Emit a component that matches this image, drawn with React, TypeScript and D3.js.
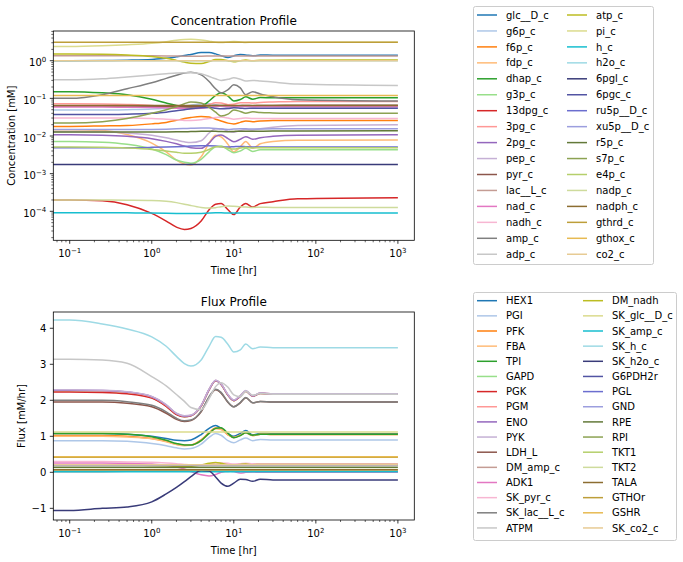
import React from 'react';
import * as d3 from 'd3';

// ---- sample times [hr] shared by the dynamic series ----
const sampleTimes = [0.05, 0.1, 0.25, 0.5, 1, 1.5, 2, 2.5, 3, 4, 5, 6, 7, 8.5, 10, 12, 14, 17, 21, 30, 60, 1000];
// series that stay at their steady value
const steadyTimes = [0.05, 1000];

// ---- concentrations [mM] ----
const glc = [1.0, 1.0, 1.01, 1.03, 1.08, 1.16, 1.27, 1.37, 1.47, 1.64, 1.64, 1.52, 1.36, 1.22, 1.34, 1.47, 1.42, 1.35, 1.42, 1.4, 1.39, 1.39];
const g6p = [0.049, 0.049, 0.049, 0.05, 0.052, 0.055, 0.058, 0.062, 0.066, 0.071, 0.072, 0.068, 0.062, 0.057, 0.06, 0.065, 0.063, 0.06, 0.062, 0.061, 0.06, 0.06];
const f6p = [0.018, 0.018, 0.0185, 0.019, 0.021, 0.023, 0.026, 0.029, 0.031, 0.033, 0.032, 0.028, 0.025, 0.022, 0.021, 0.023, 0.025, 0.024, 0.025, 0.026, 0.026, 0.026];
const fdp = [0.0146, 0.0146, 0.014, 0.011, 0.0065, 0.0038, 0.0023, 0.0018, 0.0017, 0.0028, 0.0065, 0.0105, 0.0095, 0.006, 0.0038, 0.0052, 0.0071, 0.0048, 0.0062, 0.0072, 0.0077, 0.0078];
const dhap = [0.15, 0.15, 0.14, 0.125, 0.095, 0.075, 0.065, 0.06, 0.058, 0.062, 0.085, 0.12, 0.14, 0.115, 0.085, 0.093, 0.11, 0.095, 0.105, 0.103, 0.104, 0.104];
const g3p = [0.0071, 0.0071, 0.0068, 0.006, 0.0045, 0.0032, 0.0023, 0.002, 0.0019, 0.0024, 0.0038, 0.0052, 0.0054, 0.0043, 0.0036, 0.004, 0.0047, 0.0039, 0.0043, 0.0043, 0.0043, 0.0043];
const dpg13 = [2.0e-4, 2.0e-4, 1.9e-4, 1.5e-4, 8.8e-5, 5.5e-5, 3.8e-5, 3.3e-5, 3.5e-5, 5.5e-5, 1.1e-4, 1.55e-4, 1.6e-4, 1.1e-4, 8.2e-5, 1.3e-4, 1.6e-4, 1.3e-4, 1.6e-4, 1.8e-4, 2.15e-4, 2.3e-4];
const pg3 = [0.072, 0.072, 0.071, 0.069, 0.065, 0.06, 0.056, 0.054, 0.054, 0.058, 0.068, 0.077, 0.075, 0.068, 0.07, 0.076, 0.077, 0.075, 0.078, 0.08, 0.083, 0.083];
const pg2 = [0.0108, 0.0108, 0.0105, 0.0098, 0.0085, 0.0072, 0.0062, 0.0054, 0.0049, 0.0047, 0.0065, 0.0098, 0.0106, 0.0085, 0.007, 0.0082, 0.0096, 0.0082, 0.009, 0.0098, 0.0105, 0.0108];
const pep = [0.013, 0.013, 0.0128, 0.012, 0.0105, 0.009, 0.0078, 0.007, 0.0067, 0.0075, 0.012, 0.0155, 0.0155, 0.0135, 0.0125, 0.014, 0.0148, 0.0145, 0.0155, 0.017, 0.019, 0.02];
const pyr = [0.063, 0.063, 0.063, 0.063, 0.062, 0.061, 0.06, 0.06, 0.06, 0.061, 0.063, 0.065, 0.065, 0.064, 0.063, 0.064, 0.065, 0.064, 0.065, 0.065, 0.066, 0.066];
const lac = [1.36, 1.36, 1.36, 1.36, 1.35, 1.34, 1.33, 1.32, 1.32, 1.32, 1.33, 1.34, 1.34, 1.33, 1.33, 1.33, 1.34, 1.33, 1.33, 1.33, 1.33, 1.33];
const nad = [0.059, 0.059, 0.059, 0.058, 0.057, 0.056, 0.055, 0.054, 0.054, 0.055, 0.058, 0.061, 0.062, 0.06, 0.059, 0.06, 0.061, 0.06, 0.06, 0.06, 0.06, 0.06];
const nadh = [0.03, 0.03, 0.03, 0.03, 0.029, 0.028, 0.027, 0.026, 0.026, 0.027, 0.029, 0.031, 0.032, 0.03, 0.028, 0.029, 0.03, 0.029, 0.029, 0.029, 0.029, 0.029];
const amp = [0.1, 0.1, 0.125, 0.18, 0.26, 0.34, 0.41, 0.47, 0.49, 0.42, 0.28, 0.18, 0.14, 0.17, 0.23, 0.19, 0.125, 0.15, 0.13, 0.11, 0.092, 0.085];
const adp = [0.31, 0.31, 0.33, 0.37, 0.42, 0.45, 0.47, 0.48, 0.48, 0.45, 0.38, 0.33, 0.3, 0.32, 0.35, 0.32, 0.29, 0.3, 0.29, 0.27, 0.24, 0.22];
const atp = [1.5, 1.5, 1.48, 1.42, 1.3, 1.16, 1.02, 0.92, 0.86, 0.84, 0.95, 1.07, 1.08, 1.0, 0.94, 1.0, 1.04, 1.0, 1.03, 1.03, 1.04, 1.05];
const pi = [2.4, 2.4, 2.5, 2.65, 2.9, 3.2, 3.5, 3.65, 3.7, 3.55, 3.3, 3.1, 3.05, 3.15, 3.25, 3.15, 3.05, 3.1, 3.1, 3.1, 3.1, 3.1];
const hc = [9.2e-5, 9.2e-5, 9.2e-5, 9.1e-5, 9.0e-5, 8.9e-5, 8.8e-5, 8.7e-5, 8.7e-5, 8.8e-5, 9.0e-5, 9.1e-5, 9.1e-5, 9.0e-5, 9.0e-5, 9.0e-5, 9.0e-5, 9.0e-5, 9.0e-5, 9.0e-5, 9.0e-5, 9.0e-5];
const h2o = [1.0, 1.0];
const pgl6 = [0.00175, 0.00175];
const pgc6 = [0.037, 0.037, 0.037, 0.038, 0.04, 0.043, 0.047, 0.05, 0.053, 0.056, 0.057, 0.055, 0.053, 0.054, 0.056, 0.055, 0.054, 0.055, 0.055, 0.055, 0.055, 0.055];
const ru5p = [0.0049, 0.0049, 0.0049, 0.0049, 0.005, 0.0051, 0.0052, 0.0053, 0.0054, 0.0055, 0.0055, 0.0054, 0.0052, 0.0051, 0.0052, 0.0053, 0.0052, 0.0051, 0.0051, 0.0051, 0.0051, 0.0051];
const xu5p = [0.0148, 0.0148, 0.0148, 0.0149, 0.015, 0.0152, 0.0155, 0.0158, 0.016, 0.0163, 0.0162, 0.0158, 0.0153, 0.015, 0.0153, 0.0156, 0.0155, 0.0153, 0.0154, 0.0155, 0.0156, 0.0156];
const r5p = [0.0127, 0.0127, 0.0127, 0.0127, 0.0127, 0.0128, 0.0129, 0.013, 0.0131, 0.0133, 0.0134, 0.0133, 0.0131, 0.013, 0.0132, 0.0134, 0.0134, 0.0133, 0.0134, 0.0135, 0.0136, 0.0137];
const s7p = [0.022, 0.022, 0.024, 0.029, 0.04, 0.05, 0.06, 0.072, 0.08, 0.075, 0.058, 0.043, 0.034, 0.038, 0.049, 0.045, 0.04, 0.044, 0.042, 0.041, 0.04, 0.04];
const e4p = [0.0051, 0.0051, 0.005, 0.0048, 0.0044, 0.004, 0.0037, 0.0035, 0.0035, 0.0037, 0.0044, 0.0052, 0.0052, 0.0047, 0.0045, 0.0048, 0.005, 0.0048, 0.0049, 0.0049, 0.0049, 0.0049];
const nadp = [2.0e-4, 2.0e-4, 2.0e-4, 1.98e-4, 1.95e-4, 1.85e-4, 1.7e-4, 1.55e-4, 1.42e-4, 1.27e-4, 1.22e-4, 1.25e-4, 1.33e-4, 1.38e-4, 1.36e-4, 1.32e-4, 1.3e-4, 1.27e-4, 1.28e-4, 1.27e-4, 1.27e-4, 1.27e-4];
const nadph = [0.065, 0.065];
const gthrd = [3.1, 3.1];
const gthox = [0.12, 0.12];
const co2 = [1.0, 1.0];

// ---- fluxes [mM/hr] ----
const hex1 = [1.08, 1.08, 1.08, 1.06, 1.0, 0.94, 0.89, 0.88, 0.9, 1.05, 1.22, 1.3, 1.22, 1.08, 1.0, 1.08, 1.16, 1.04, 1.08, 1.07, 1.07, 1.07];
const pgi = [0.88, 0.88, 0.88, 0.86, 0.8, 0.74, 0.68, 0.65, 0.66, 0.78, 0.97, 1.08, 1.03, 0.88, 0.82, 0.9, 0.95, 0.88, 0.91, 0.9, 0.9, 0.9];
const pfk = [1.02, 1.02, 1.02, 1.0, 0.94, 0.86, 0.78, 0.75, 0.76, 0.9, 1.1, 1.23, 1.2, 1.04, 0.97, 1.03, 1.1, 1.02, 1.06, 1.05, 1.05, 1.05];
const fba = [1.0, 1.0, 1.0, 0.98, 0.93, 0.85, 0.77, 0.74, 0.75, 0.88, 1.08, 1.21, 1.19, 1.04, 0.97, 1.03, 1.09, 1.02, 1.06, 1.05, 1.05, 1.05];
const tpi = [1.08, 1.08, 1.08, 1.06, 0.99, 0.89, 0.8, 0.76, 0.76, 0.88, 1.08, 1.22, 1.24, 1.08, 0.96, 1.02, 1.1, 1.03, 1.06, 1.06, 1.06, 1.06];
const gapd = [2.25, 2.25, 2.24, 2.2, 2.07, 1.84, 1.61, 1.54, 1.57, 1.84, 2.29, 2.54, 2.44, 2.14, 1.99, 2.11, 2.25, 2.11, 2.19, 2.17, 2.17, 2.17];
const pgk = [2.23, 2.23, 2.22, 2.18, 2.06, 1.83, 1.6, 1.54, 1.57, 1.84, 2.29, 2.54, 2.44, 2.14, 1.99, 2.11, 2.25, 2.11, 2.19, 2.17, 2.17, 2.17];
const pgm = [2.27, 2.27, 2.26, 2.22, 2.09, 1.86, 1.63, 1.56, 1.58, 1.85, 2.3, 2.55, 2.45, 2.15, 2.0, 2.12, 2.26, 2.12, 2.2, 2.18, 2.18, 2.18];
const eno = [2.28, 2.28, 2.27, 2.23, 2.1, 1.87, 1.63, 1.56, 1.58, 1.85, 2.3, 2.55, 2.45, 2.15, 2.0, 2.12, 2.26, 2.12, 2.2, 2.18, 2.18, 2.18];
const pyk = [2.29, 2.29, 2.28, 2.24, 2.11, 1.88, 1.64, 1.57, 1.59, 1.86, 2.31, 2.56, 2.46, 2.16, 2.01, 2.13, 2.27, 2.13, 2.2, 2.18, 2.18, 2.18];
const ldh = [1.95, 1.95, 1.95, 1.92, 1.82, 1.64, 1.47, 1.41, 1.44, 1.68, 2.08, 2.29, 2.2, 1.94, 1.82, 1.93, 2.07, 1.93, 1.97, 1.95, 1.95, 1.95];
const dmAmp = [0.015, 0.015, 0.018, 0.027, 0.04, 0.05, 0.06, 0.07, 0.072, 0.062, 0.042, 0.027, 0.021, 0.025, 0.034, 0.028, 0.019, 0.022, 0.019, 0.016, 0.014, 0.013];
const adk1 = [0.26, 0.26, 0.26, 0.25, 0.23, 0.2, 0.15, 0.09, 0.02, -0.07, -0.1, -0.06, 0.0, 0.04, 0.02, -0.02, 0.0, 0.01, 0.0, 0.0, 0.0, 0.0];
const skPyr = [0.3, 0.3, 0.3, 0.29, 0.28, 0.26, 0.24, 0.22, 0.21, 0.21, 0.23, 0.26, 0.26, 0.25, 0.23, 0.24, 0.25, 0.24, 0.24, 0.24, 0.24, 0.24];
const skLac = [2.0, 2.0, 2.0, 1.96, 1.86, 1.68, 1.5, 1.43, 1.45, 1.7, 2.1, 2.31, 2.22, 1.95, 1.82, 1.94, 2.08, 1.93, 1.97, 1.95, 1.95, 1.95];
const atpm = [3.14, 3.14, 3.12, 3.03, 2.66, 2.4, 2.16, 1.97, 1.8, 1.74, 2.05, 2.38, 2.49, 2.36, 2.15, 2.1, 2.25, 2.14, 2.19, 2.17, 2.17, 2.17];
const dmNadh = [0.2, 0.2, 0.2, 0.2, 0.19, 0.18, 0.17, 0.16, 0.17, 0.2, 0.25, 0.27, 0.25, 0.21, 0.2, 0.22, 0.23, 0.21, 0.22, 0.22, 0.22, 0.22];
const skGlc = [1.12, 1.12];
const skAmp = [0.014, 0.014];
const skH = [4.23, 4.23, 4.12, 3.98, 3.76, 3.5, 3.22, 3.02, 2.95, 3.12, 3.5, 3.77, 3.75, 3.55, 3.34, 3.4, 3.56, 3.43, 3.48, 3.46, 3.46, 3.46];
const skH2o = [-1.06, -1.06, -1.0, -0.96, -0.82, -0.6, -0.42, -0.26, -0.12, 0.05, 0.04, -0.13, -0.3, -0.39, -0.3, -0.19, -0.2, -0.25, -0.19, -0.21, -0.21, -0.21];
const g6pdh = [0.21, 0.21];
const pglFlux = [0.205, 0.205];
const gnd = [0.2, 0.2];
const rpe = [0.14, 0.14];
const rpi = [0.07, 0.07];
const tkt1 = [0.075, 0.075];
const tkt2 = [0.065, 0.065];
const tala = [0.07, 0.07];
const gthor = [0.42, 0.42];
const gshr = [0.43, 0.43];
const skCo2 = [0.21, 0.21];

// tab20 followed by tab20b
const palette = [
  '#1f77b4', '#aec7e8', '#ff7f0e', '#ffbb78', '#2ca02c', '#98df8a', '#d62728', '#ff9896',
  '#9467bd', '#c5b0d5', '#8c564b', '#c49c94', '#e377c2', '#f7b6d2', '#7f7f7f', '#c7c7c7',
  '#bcbd22', '#dbdb8d', '#17becf', '#9edae5',
  '#393b79', '#5254a3', '#6b6ecf', '#9c9ede', '#637939', '#8ca252', '#b5cf6b', '#cedb9c',
  '#8c6d31', '#bd9e39', '#e7ba52', '#e7cb94',
];

type Series = { name: string; t: number[]; v: number[] };
const dyn = (name: string, v: number[]): Series => ({ name, t: sampleTimes, v });
const steady = (name: string, v: number[]): Series => ({ name, t: steadyTimes, v });

const concSeries: Series[] = [
  dyn('glc__D_c', glc), dyn('g6p_c', g6p), dyn('f6p_c', f6p), dyn('fdp_c', fdp),
  dyn('dhap_c', dhap), dyn('g3p_c', g3p), dyn('13dpg_c', dpg13), dyn('3pg_c', pg3),
  dyn('2pg_c', pg2), dyn('pep_c', pep), dyn('pyr_c', pyr), dyn('lac__L_c', lac),
  dyn('nad_c', nad), dyn('nadh_c', nadh), dyn('amp_c', amp), dyn('adp_c', adp),
  dyn('atp_c', atp), dyn('pi_c', pi), dyn('h_c', hc), steady('h2o_c', h2o),
  steady('6pgl_c', pgl6), dyn('6pgc_c', pgc6), dyn('ru5p__D_c', ru5p), dyn('xu5p__D_c', xu5p),
  dyn('r5p_c', r5p), dyn('s7p_c', s7p), dyn('e4p_c', e4p), dyn('nadp_c', nadp),
  steady('nadph_c', nadph), steady('gthrd_c', gthrd), steady('gthox_c', gthox), steady('co2_c', co2),
];

const fluxSeries: Series[] = [
  dyn('HEX1', hex1), dyn('PGI', pgi), dyn('PFK', pfk), dyn('FBA', fba),
  dyn('TPI', tpi), dyn('GAPD', gapd), dyn('PGK', pgk), dyn('PGM', pgm),
  dyn('ENO', eno), dyn('PYK', pyk), dyn('LDH_L', ldh), dyn('DM_amp_c', dmAmp),
  dyn('ADK1', adk1), dyn('SK_pyr_c', skPyr), dyn('SK_lac__L_c', skLac), dyn('ATPM', atpm),
  dyn('DM_nadh', dmNadh), steady('SK_glc__D_c', skGlc), steady('SK_amp_c', skAmp), dyn('SK_h_c', skH),
  dyn('SK_h2o_c', skH2o), steady('G6PDH2r', g6pdh), steady('PGL', pglFlux), steady('GND', gnd),
  steady('RPE', rpe), steady('RPI', rpi), steady('TKT1', tkt1), steady('TKT2', tkt2),
  steady('TALA', tala), steady('GTHOr', gthor), steady('GSHR', gshr), steady('SK_co2_c', skCo2),
];

const FONT = 'DejaVu Sans, sans-serif';
const left = 53.3;
const right = 414.3;

const xScale = d3.scaleLog().domain([10 ** -1.2, 10 ** 3.2]).range([left, right]);

const isDecade = (v: number) => Math.abs(Math.log10(v) - Math.round(Math.log10(v))) < 1e-9;

const Pow10 = ({ exp }: { exp: number }) => (
  <>
    <tspan>10</tspan>
    <tspan dy={-4.5} fontSize={7}>{exp < 0 ? `\u2212${-exp}` : `${exp}`}</tspan>
  </>
);

type PanelProps = {
  id: string;
  top: number;
  bottom: number;
  title: string;
  ylabel: string;
  ylabelX: number;
  series: Series[];
  y: any;
  logY: boolean;
};

const Panel = ({ id, top, bottom, title, ylabel, ylabelX, series, y, logY }: PanelProps) => {
  const line = d3
    .line<[number, number]>()
    .x((d) => xScale(d[0]))
    .y((d) => y(d[1]))
    .curve(d3.curveMonotoneX);

  const [d0, d1] = xScale.domain();
  const xTicks = xScale.ticks().filter((t) => t >= d0 && t <= d1);
  const [y0, y1] = y.domain();
  const lo = Math.min(y0, y1);
  const hi = Math.max(y0, y1);
  const yTicks: number[] = (logY ? y.ticks() : y.ticks(6)).filter((t: number) => t >= lo && t <= hi);
  const cx = (left + right) / 2;

  return (
    <g>
      <defs>
        <clipPath id={id}>
          <rect x={left} y={top} width={right - left} height={bottom - top} />
        </clipPath>
      </defs>
      <g clipPath={`url(#${id})`}>
        {series.map((s, i) => (
          <path
            key={s.name}
            d={line(s.t.map((t, k) => [t, s.v[k]] as [number, number])) || ''}
            fill="none"
            stroke={palette[i]}
            strokeWidth={1.5}
          />
        ))}
      </g>
      <rect x={left} y={top} width={right - left} height={bottom - top} fill="none" stroke="#000" strokeWidth={0.8} />

      {/* x axis */}
      {xTicks.map((t) => {
        const major = isDecade(t);
        const px = xScale(t);
        return (
          <g key={`x${t}`}>
            <line x1={px} x2={px} y1={bottom} y2={bottom + (major ? 3.5 : 2)} stroke="#000" strokeWidth={major ? 0.8 : 0.6} />
            {major && (
              <text x={px} y={bottom + 17} fontSize={10} textAnchor="middle" fill="#000">
                <Pow10 exp={Math.round(Math.log10(t))} />
              </text>
            )}
          </g>
        );
      })}
      <text x={cx} y={bottom + 33.5} fontSize={10} textAnchor="middle" fill="#000">Time [hr]</text>

      {/* y axis */}
      {yTicks.map((t) => {
        const major = logY ? isDecade(t) : true;
        const py = y(t);
        return (
          <g key={`y${t}`}>
            <line x1={left} x2={left - (major ? 3.5 : 2)} y1={py} y2={py} stroke="#000" strokeWidth={major ? 0.8 : 0.6} />
            {major &&
              (logY ? (
                <text x={left - 7} y={py + 5.6} fontSize={10} textAnchor="end" fill="#000">
                  <Pow10 exp={Math.round(Math.log10(t))} />
                </text>
              ) : (
                <text x={left - 7} y={py + 3.6} fontSize={10} textAnchor="end" fill="#000">
                  {t < 0 ? `\u2212${-t}` : `${t}`}
                </text>
              ))}
          </g>
        );
      })}
      <text
        transform={`translate(${ylabelX},${(top + bottom) / 2}) rotate(-90)`}
        fontSize={10}
        textAnchor="middle"
        fill="#000"
      >
        {ylabel}
      </text>

      <text x={cx} y={top - 6} fontSize={12} textAnchor="middle" fill="#000">{title}</text>
    </g>
  );
};

type LegendProps = {
  series: Series[];
  x: number;
  y: number;
  w: number;
  h: number;
  firstRow: number;
  rowStep: number;
  col2: number;
};

const Legend = ({ series, x, y, w, h, firstRow, rowStep, col2 }: LegendProps) => {
  const perCol = Math.ceil(series.length / 2);
  return (
    <g>
      <rect x={x} y={y} width={w} height={h} rx={2} fill="#fff" fillOpacity={0.8} stroke="#cccccc" strokeWidth={1} />
      {series.map((s, i) => {
        const col = Math.floor(i / perCol);
        const row = i % perCol;
        const hx = col === 0 ? x + 3.5 : col2;
        const ry = firstRow + row * rowStep;
        return (
          <g key={s.name}>
            <line x1={hx} x2={hx + 20} y1={ry} y2={ry} stroke={palette[i]} strokeWidth={1.5} />
            <text x={hx + 29} y={ry + 3.6} fontSize={10} fill="#000">{s.name}</text>
          </g>
        );
      })}
    </g>
  );
};

export default function App() {
  const yConc = d3.scaleLog().domain([10 ** -4.77, 10 ** 0.789]).range([240.3, 31]);
  const yFlux = d3.scaleLinear().domain([-1.324, 4.452]).range([520, 312]);

  return (
    <svg
      width={683}
      height={562}
      style={{ position: 'absolute', left: 0, top: 0, background: '#fff' }}
      fontFamily={FONT}
    >
      <rect x={0} y={0} width={683} height={562} fill="#fff" />
      <Panel
        id="clip-conc"
        top={31}
        bottom={240.3}
        title="Concentration Profile"
        ylabel="Concentration [mM]"
        ylabelX={15.2}
        series={concSeries}
        y={yConc}
        logY
      />
      <Panel
        id="clip-flux"
        top={312}
        bottom={520}
        title="Flux Profile"
        ylabel="Flux [mM/hr]"
        ylabelX={25.2}
        series={fluxSeries}
        y={yFlux}
        logY={false}
      />
      <Legend series={concSeries} x={473.5} y={6.5} w={180} h={258} firstRow={15} rowStep={15.95} col2={567} />
      <Legend series={fluxSeries} x={473.5} y={292.5} w={203} h={248} firstRow={300.7} rowStep={15.15} col2={583} />
    </svg>
  );
}
